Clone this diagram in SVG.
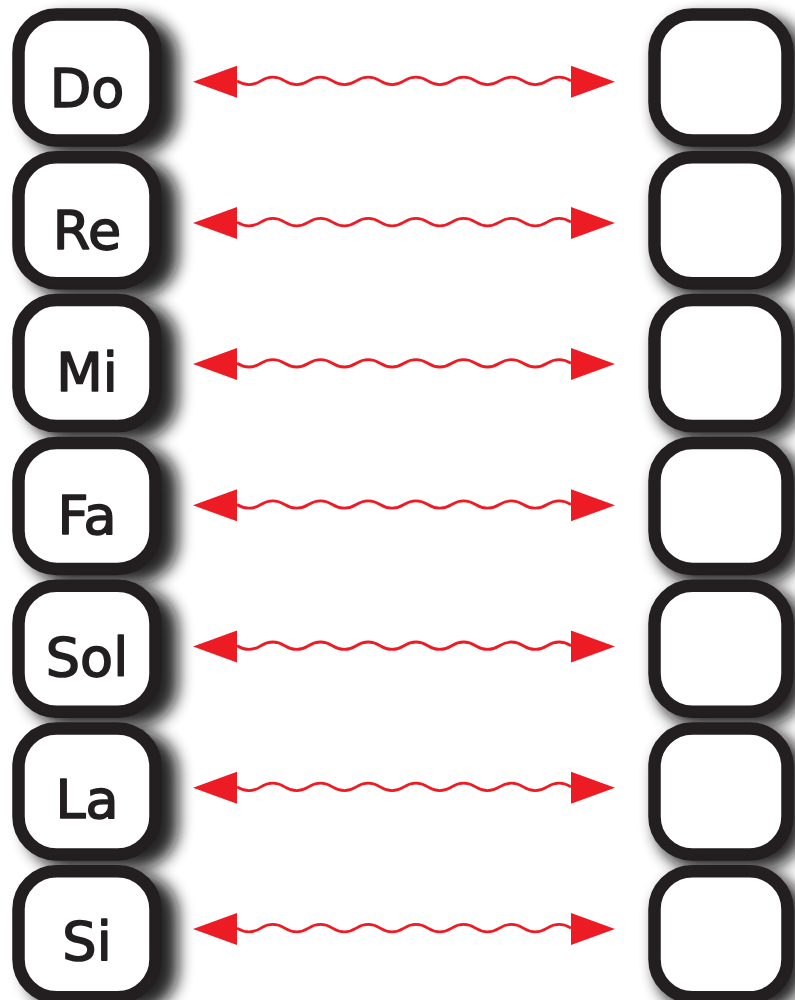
<svg xmlns="http://www.w3.org/2000/svg" xmlns:xlink="http://www.w3.org/1999/xlink" width="795" height="1000" viewBox="0 0 795 1000">
<defs>
<filter id="sh" x="-40%" y="-40%" width="180%" height="180%">
<feGaussianBlur stdDeviation="8"/>
</filter>
<g id="arrow">
<path d="M237,-0.8 q11.93,7.4 23.86,0 t23.86,0 t23.86,0 t23.86,0 t23.86,0 t23.86,0 t23.86,0 t23.86,0 t23.86,0 t23.86,0 t23.86,0 t23.86,0 t23.86,0 t23.86,0" fill="none" stroke="#ED1C24" stroke-width="2.8"/>
<polygon points="193,0 237,-16 237,16" fill="#ED1C24"/>
<polygon points="615,0 571,-16 571,16" fill="#ED1C24"/>
</g>
</defs>
<style>
.box{fill:#fff;stroke:#231F20;stroke-width:12.5}
.shadow{fill:#111;opacity:0.9;filter:url(#sh)}
.lbl{font-family:"DejaVu Sans",sans-serif;font-size:54px;fill:#231F20;stroke:#231F20;stroke-width:1.6;stroke-linejoin:round;text-anchor:middle}
</style>
<rect width="795" height="1000" fill="#fff"/>
<g id="connectors">
<use xlink:href="#arrow" transform="translate(0,81.7)"/>
<use xlink:href="#arrow" transform="translate(0,222.9)"/>
<use xlink:href="#arrow" transform="translate(0,364.1)"/>
<use xlink:href="#arrow" transform="translate(0,505.3)"/>
<use xlink:href="#arrow" transform="translate(0,646.5)"/>
<use xlink:href="#arrow" transform="translate(0,787.7)"/>
<use xlink:href="#arrow" transform="translate(0,928.9)"/>
</g>
<g id="node-do"><rect class="shadow" x="26" y="16" width="152" height="139" rx="42"/><rect class="box" x="18.5" y="14.5" width="137" height="126" rx="38"/><text class="lbl" x="87" y="107">Do</text></g>
<g id="node-do-r"><rect class="shadow" x="656" y="16" width="148" height="139" rx="42"/><rect class="box" x="654.5" y="14.5" width="133" height="126" rx="38"/></g>
<g id="node-re"><rect class="shadow" x="26" y="158.8" width="152" height="139" rx="42"/><rect class="box" x="18.5" y="157.3" width="137" height="126" rx="38"/><text class="lbl" x="87" y="249.2">Re</text></g>
<g id="node-re-r"><rect class="shadow" x="656" y="158.8" width="148" height="139" rx="42"/><rect class="box" x="654.5" y="157.3" width="133" height="126" rx="38"/></g>
<g id="node-mi"><rect class="shadow" x="26" y="301.6" width="152" height="139" rx="42"/><rect class="box" x="18.5" y="300.1" width="137" height="126" rx="38"/><text class="lbl" x="87" y="391.4">Mi</text></g>
<g id="node-mi-r"><rect class="shadow" x="656" y="301.6" width="148" height="139" rx="42"/><rect class="box" x="654.5" y="300.1" width="133" height="126" rx="38"/></g>
<g id="node-fa"><rect class="shadow" x="26" y="444.4" width="152" height="139" rx="42"/><rect class="box" x="18.5" y="442.9" width="137" height="126" rx="38"/><text class="lbl" x="87" y="533.6">Fa</text></g>
<g id="node-fa-r"><rect class="shadow" x="656" y="444.4" width="148" height="139" rx="42"/><rect class="box" x="654.5" y="442.9" width="133" height="126" rx="38"/></g>
<g id="node-sol"><rect class="shadow" x="26" y="587.2" width="152" height="139" rx="42"/><rect class="box" x="18.5" y="585.7" width="137" height="126" rx="38"/><text class="lbl" x="87" y="675.8">Sol</text></g>
<g id="node-sol-r"><rect class="shadow" x="656" y="587.2" width="148" height="139" rx="42"/><rect class="box" x="654.5" y="585.7" width="133" height="126" rx="38"/></g>
<g id="node-la"><rect class="shadow" x="26" y="730" width="152" height="139" rx="42"/><rect class="box" x="18.5" y="728.5" width="137" height="126" rx="38"/><text class="lbl" x="87" y="818">La</text></g>
<g id="node-la-r"><rect class="shadow" x="656" y="730" width="148" height="139" rx="42"/><rect class="box" x="654.5" y="728.5" width="133" height="126" rx="38"/></g>
<g id="node-si"><rect class="shadow" x="26" y="872.8" width="152" height="139" rx="42"/><rect class="box" x="18.5" y="871.3" width="137" height="126" rx="38"/><text class="lbl" x="87" y="960.2">Si</text></g>
<g id="node-si-r"><rect class="shadow" x="656" y="872.8" width="148" height="139" rx="42"/><rect class="box" x="654.5" y="871.3" width="133" height="126" rx="38"/></g>
</svg>
